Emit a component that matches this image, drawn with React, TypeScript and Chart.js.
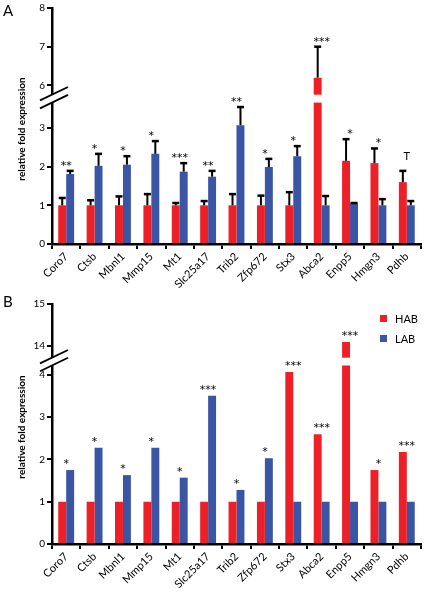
import React, { useEffect, useRef } from 'react';
import { Chart, registerables } from 'chart.js';

Chart.register(...registerables);

// ---------- data ----------
const genes = ['Coro7', 'Ctsb', 'Mbnl1', 'Mmp15', 'Mt1', 'Slc25a17', 'Trib2', 'Zfp672', 'Stx3', 'Abca2', 'Enpp5', 'Hmgn3', 'Pdhb'];
const seriesNames = ['HAB', 'LAB'];

// Panel A (means and upper error-bar ends)
const habA = [1, 1, 1, 1, 1, 1, 1, 1, 1, 6.2, 2.15, 2.09, 1.6];
const habErrA = [1.19, 1.13, 1.23, 1.29, 1.06, 1.11, 1.29, 1.25, 1.34, 7.0, 2.71, 2.47, 1.89];
const labA = [1.81, 2.02, 2.05, 2.33, 1.87, 1.74, 3.07, 1.99, 2.27, 1.0, 1.05, 1.0, 1.0];
const labErrA = [1.89, 2.33, 2.27, 2.66, 2.09, 1.89, 3.54, 2.2, 2.53, 1.24, 1.06, 1.16, 1.11];
const sigA = ['**', '*', '*', '*', '***', '**', '**', '*', '*', '***', '*', '*', 'T'];
const yTicksA = [0, 1, 2, 3, 6, 7, 8];

// Panel B
const habB = [1, 1, 1, 1, 1, 1, 1, 1, 4.07, 2.6, 14.1, 1.75, 2.18];
const labB = [1.75, 2.28, 1.63, 2.28, 1.57, 3.51, 1.28, 2.03, 1, 1, 1, 1, 1];
const sigB = ['*', '*', '*', '*', '*', '***', '*', '*', '***', '***', '***', '*', '***'];
const yTicksB = [0, 1, 2, 3, 4, 14, 15];

// ---------- styling ----------
const RED = '#ED1F27';
const BLUE = '#3B55A5';
const FONT = 'Lato, "Open Sans", sans-serif';
const STAR_FONT = '"DejaVu Sans", sans-serif';

type PanelCfg = {
  hab: number[];
  lab: number[];
  habErr?: number[];
  labErr?: number[];
  sig: string[];
  yTicks: number[];
  breakAt: number; // real values above this live on the upper segment
  shift: number; // amount removed from upper-segment values
  gap: [number, number]; // display-space band that is blanked (axis break)
  padTop: number;
  xHeight: number;
  starOffset: number;
};

function makeToDisp(p: PanelCfg) {
  return (v: number) => (v > p.breakAt ? v - p.shift : v);
}

function buildChart(canvas: HTMLCanvasElement, p: PanelCfg) {
  const toDisp = makeToDisp(p);
  const dispTicks = p.yTicks.map(toDisp);
  const dispMax = Math.max(...dispTicks);

  const overlay = {
    id: 'overlay',
    afterDatasetsDraw(chart: any) {
      const ctx = chart.ctx;
      const ca = chart.chartArea;
      const ys = chart.scales.y;
      const xs = chart.scales.x;
      ctx.save();
      // break band
      const yHi = ys.getPixelForValue(p.gap[1]);
      const yLo = ys.getPixelForValue(p.gap[0]);
      ctx.fillStyle = '#ffffff';
      ctx.fillRect(ca.left - 4, yHi, ca.right - ca.left + 6, yLo - yHi);

      // error bars
      const errs = [p.habErr, p.labErr];
      ctx.strokeStyle = '#000';
      errs.forEach((errArr, di) => {
        if (!errArr) return;
        const meta = chart.getDatasetMeta(di);
        meta.data.forEach((el: any, j: number) => {
          const yE = ys.getPixelForValue(toDisp(errArr[j]));
          ctx.lineWidth = 2;
          ctx.beginPath();
          ctx.moveTo(el.x, el.y);
          ctx.lineTo(el.x, yE);
          ctx.stroke();
          ctx.lineWidth = 2.5;
          ctx.beginPath();
          ctx.moveTo(el.x - 3.5, yE);
          ctx.lineTo(el.x + 3.5, yE);
          ctx.stroke();
        });
      });

      // significance marks
      ctx.fillStyle = '#000';
      ctx.textAlign = 'center';
      ctx.textBaseline = 'alphabetic';
      p.sig.forEach((s, j) => {
        const tops = [toDisp(p.hab[j]), toDisp(p.lab[j])];
        if (p.habErr) tops.push(toDisp(p.habErr[j]));
        if (p.labErr) tops.push(toDisp(p.labErr[j]));
        const yTop = ys.getPixelForValue(Math.max(...tops));
        const x = xs.getPixelForValue(j);
        if (s === 'T') {
          ctx.font = `11px ${FONT}`;
          ctx.fillText(s, x, yTop - 11);
        } else {
          ctx.font = `11px ${STAR_FONT}`;
          ctx.fillText(s, x, yTop + 1 - p.starOffset);
        }
      });

      // axis break slashes
      ctx.strokeStyle = '#000';
      ctx.lineWidth = 1.8;
      const s = 0.48;
      [yHi, yLo].forEach((yy) => {
        ctx.beginPath();
        ctx.moveTo(ca.left - 12, yy + 12 * s);
        ctx.lineTo(ca.left + 16, yy - 16 * s);
        ctx.stroke();
      });

      // y-axis title
      ctx.font = `bold 10px ${FONT}`;
      ctx.textAlign = 'center';
      ctx.textBaseline = 'middle';
      ctx.translate(22, (ca.top + ca.bottom) / 2 + 3);
      ctx.rotate(-Math.PI / 2);
      ctx.fillText('relative fold expression', 0, 0);
      ctx.restore();
    },
  };

  return new Chart(canvas, {
    type: 'bar',
    data: {
      labels: genes,
      datasets: [
        { label: seriesNames[0], data: p.hab.map(toDisp), backgroundColor: RED, borderWidth: 0, categoryPercentage: 0.56, barPercentage: 1 },
        { label: seriesNames[1], data: p.lab.map(toDisp), backgroundColor: BLUE, borderWidth: 0, categoryPercentage: 0.56, barPercentage: 1 },
      ],
    },
    options: {
      animation: false,
      responsive: false,
      maintainAspectRatio: false,
      layout: { padding: { top: p.padTop, right: 4, left: 0, bottom: 0 } },
      plugins: { legend: { display: false }, tooltip: { enabled: false } },
      scales: {
        x: {
          afterFit: (sc: any) => { sc.height = p.xHeight; },
          ticks: { minRotation: 45, maxRotation: 45, autoSkip: false, color: '#000', font: { family: FONT, size: 11 }, padding: 1 },
          grid: { offset: true, drawOnChartArea: false, drawTicks: true, tickLength: 5, color: '#000', lineWidth: 2 },
          border: { display: true, color: '#000', width: 2.5 },
        },
        y: {
          min: 0,
          max: dispMax,
          afterFit: (sc: any) => { sc.width = 52; },
          afterBuildTicks: (sc: any) => { sc.ticks = dispTicks.map((v) => ({ value: v })); },
          ticks: {
            autoSkip: false,
            color: '#000',
            font: { family: FONT, size: 10 },
            padding: 2,
            callback: (val: any) => {
              const i = dispTicks.findIndex((d) => Math.abs(d - Number(val)) < 1e-6);
              return i >= 0 ? String(p.yTicks[i]) : '';
            },
          },
          grid: { drawOnChartArea: false, drawTicks: true, tickLength: 5, color: '#000', lineWidth: 2 },
          border: { display: true, color: '#000', width: 2.5 },
        },
      },
    },
    plugins: [overlay],
  } as any);
}

const panelA: PanelCfg = {
  hab: habA, lab: labA, habErr: habErrA, labErr: labErrA, sig: sigA, yTicks: yTicksA,
  breakAt: 4, shift: 1.9, gap: [3.655, 3.86], padTop: 7, xHeight: 52, starOffset: 3,
};
const panelB: PanelCfg = {
  hab: habB, lab: labB, sig: sigB, yTicks: yTicksB,
  breakAt: 5, shift: 9.32, gap: [4.225, 4.41], padTop: 6, xHeight: 48, starOffset: 4,
};

function Panel({ cfg, top }: { cfg: PanelCfg; top: number }) {
  const ref = useRef<HTMLCanvasElement>(null);
  useEffect(() => {
    if (!ref.current) return;
    const c = buildChart(ref.current, cfg);
    return () => c.destroy();
  }, [cfg]);
  return (
    <canvas ref={ref} width={425} height={296} style={{ position: 'absolute', left: 0, top, width: 425, height: 296 }} />
  );
}

export default function App() {
  const letter: React.CSSProperties = { position: 'absolute', left: 3, fontFamily: FONT, fontSize: 15, lineHeight: '15px', color: '#000' };
  return (
    <div style={{ position: 'absolute', left: 0, top: 0, width: 425, height: 592, background: '#fff', overflow: 'hidden' }}>
      <Panel cfg={panelA} top={0} />
      <Panel cfg={panelB} top={296} />
      <div style={{ ...letter, top: 3 }}>A</div>
      <div style={{ ...letter, top: 294 }}>B</div>
      {seriesNames.map((n, i) => (
        <div key={n} style={{ position: 'absolute', left: 380, top: 311 + i * 20, height: 14, display: 'flex', alignItems: 'center', fontFamily: FONT, fontSize: 11, color: '#000' }}>
          <span style={{ display: 'inline-block', width: 7, height: 7, background: i === 0 ? RED : BLUE, marginRight: 8 }} />
          {n}
        </div>
      ))}
    </div>
  );
}
